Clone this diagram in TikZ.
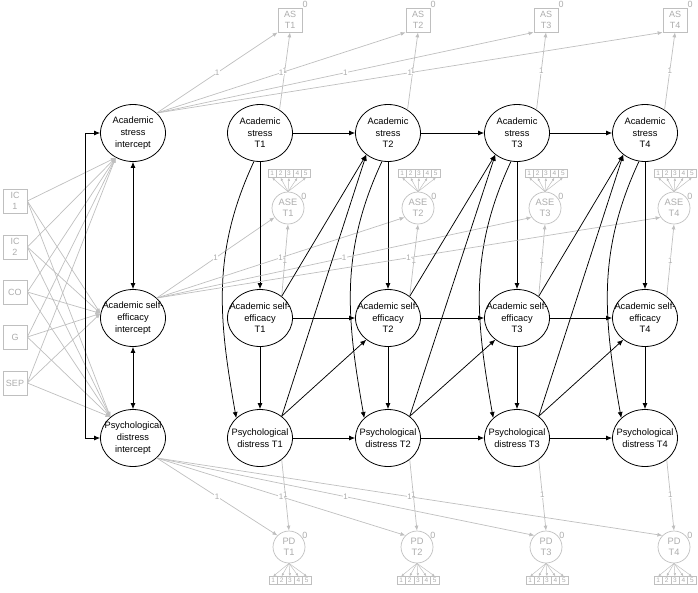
\documentclass[tikz,border=0pt]{standalone}
\usepackage{fontspec}
\setmainfont{Liberation Sans}
\usetikzlibrary{shapes.geometric,arrows.meta}
\begin{document}
\begin{tikzpicture}[x=1pt,y=1pt,
 big/.style={ellipse,draw=black,line width=0.8pt,minimum width=65pt,minimum height=57pt,inner sep=-12pt,align=center,font=\fontsize{9.3}{11.6}\selectfont},
 obsbox/.style={rectangle,draw=gray!50,line width=0.7pt,minimum width=24pt,minimum height=24pt,inner sep=0pt,align=center,text=gray!65,font=\fontsize{9}{11}\selectfont},
 smallc/.style={circle,draw=gray!50,line width=0.7pt,minimum size=32pt,inner sep=0pt,align=center,text=gray!65,font=\fontsize{9.3}{11}\selectfont},
 ind/.style={rectangle,draw=gray!50,line width=0.5pt,minimum width=8.4pt,minimum height=8pt,inner sep=0pt,text=gray!65,font=\fontsize{6.5}{7}\selectfont},
 blk/.style={draw=black,line width=0.75pt,-{Latex[length=6pt,width=5pt]}},
 blkd/.style={draw=black,line width=0.75pt,{Latex[length=6pt,width=5pt]}-{Latex[length=6pt,width=5pt]}},
 gry/.style={draw=gray!50,line width=0.7pt,-{Latex[length=5pt,width=4pt]}},
 tinyarr/.style={draw=gray!50,line width=0.5pt,-{Latex[length=3pt,width=2.5pt]}},
 one/.style={fill=white,inner sep=0.4pt,text=gray!65,font=\fontsize{8}{9}\selectfont},
 zero/.style={text=gray!65,font=\fontsize{9}{10}\selectfont,inner sep=0pt},
]
\path[use as bounding box] (0,0) rectangle (698,-592);

% intercepts
\node[big] (ASi) at (133,-133) {Academic\\stress\\intercept};
\node[big] (ASEi) at (133,-318) {Academic self-\\efficacy\\intercept};
\node[big] (PDi) at (133,-438) {Psychological\\distress\\intercept};

% covariates
\node[obsbox] (c1) at (15,-201) {IC\\1};
\node[obsbox] (c2) at (15,-247) {IC\\2};
\node[obsbox] (c3) at (15,-292) {CO};
\node[obsbox] (c4) at (15,-337) {G};
\node[obsbox] (c5) at (15,-383) {SEP};

% time points
\foreach \i/\x/\bx/\cx/\px in {1/260/290/288/289, 2/388/418/418/417, 3/517/546/545/546, 4/645/675/674/674}{
  \node[big] (AS\i) at (\x,-133) {Academic\\stress\\T\i};
  \node[big] (ASE\i) at (\x,-318) {Academic self-\\efficacy\\T\i};
  \node[big] (PD\i) at (\x,-438) {Psychological\\distress T\i};
  \node[obsbox] (ASb\i) at (\bx,-20) {AS\\T\i};
  \node[zero,anchor=west] (zb\i) at ([yshift=3pt]ASb\i.north east) {0};
  \node[smallc] (ase\i) at (\cx,-208) {ASE\\T\i};
  \node[zero,anchor=west] (za\i) at ([xshift=1.5pt]ase\i.45) {0};
  \node[smallc] (pd\i) at (\px,-547) {PD\\T\i};
  \node[zero,anchor=west] (zp\i) at ([xshift=1.5pt]pd\i.45) {0};
  \foreach \k in {1,...,5}{
    \node[ind] (ai\i-\k) at ({\cx+1+(\k-3)*8.4},-173.5) {\k};
    \node[ind] (pi\i-\k) at ({\px+1+(\k-3)*8.4},-580.5) {\k};
  }
}

% covariate paths
\foreach \c in {c1,c2,c3,c4,c5}{
  \draw[gry] (\c.east) -- (ASi.235);
  \draw[gry] (\c.east) -- (ASEi.172);
  \draw[gry] (\c.east) -- (PDi.137);
}

% growth loadings and measurement
\foreach \i in {1,2,3,4}{
  \draw[gry] (ASi.40) -- node[one]{1} (ASb\i.south west);
  \draw[gry] (AS\i.50) -- node[one]{1} (ASb\i.south);
  \draw[gry] (ASEi.40) -- node[one]{1} (ase\i.215);
  \draw[gry] (ASE\i.45) -- node[one]{1} (ase\i.south);
  \draw[gry] (PDi.-40) -- node[one]{1} (pd\i.135);
  \draw[gry] (PD\i.-45) -- node[one]{1} (pd\i.north);
  \foreach \k in {1,...,5}{
    \draw[tinyarr] (ase\i.north) -- (ai\i-\k.south);
    \draw[tinyarr] (pd\i.south) -- (pi\i-\k.north);
  }
  \draw[blk] (AS\i.south) -- (ASE\i.north);
  \draw[blk] (ASE\i.south) -- (PD\i.north);
  \draw[blk] (AS\i.258) to[out=245,in=100] (PD\i.140);
}

% lagged paths
\foreach \i/\j in {1/2,2/3,3/4}{
  \draw[blk] (AS\i.east) -- (AS\j.west);
  \draw[blk] (ASE\i.east) -- (ASE\j.west);
  \draw[blk] (PD\i.east) -- (PD\j.west);
  \draw[blk] (ASE\i.45) -- (AS\j.225);
  \draw[blk] (PD\i.45) -- (AS\j.225);
  \draw[blk] (PD\i.45) -- (ASE\j.225);
}

% intercept covariances
\draw[blkd] (ASi.south) -- (ASEi.north);
\draw[blkd] (ASEi.south) -- (PDi.north);
\draw[blkd] (ASi.west) -- ++(-15,0) |- (PDi.west);
\end{tikzpicture}
\end{document}
